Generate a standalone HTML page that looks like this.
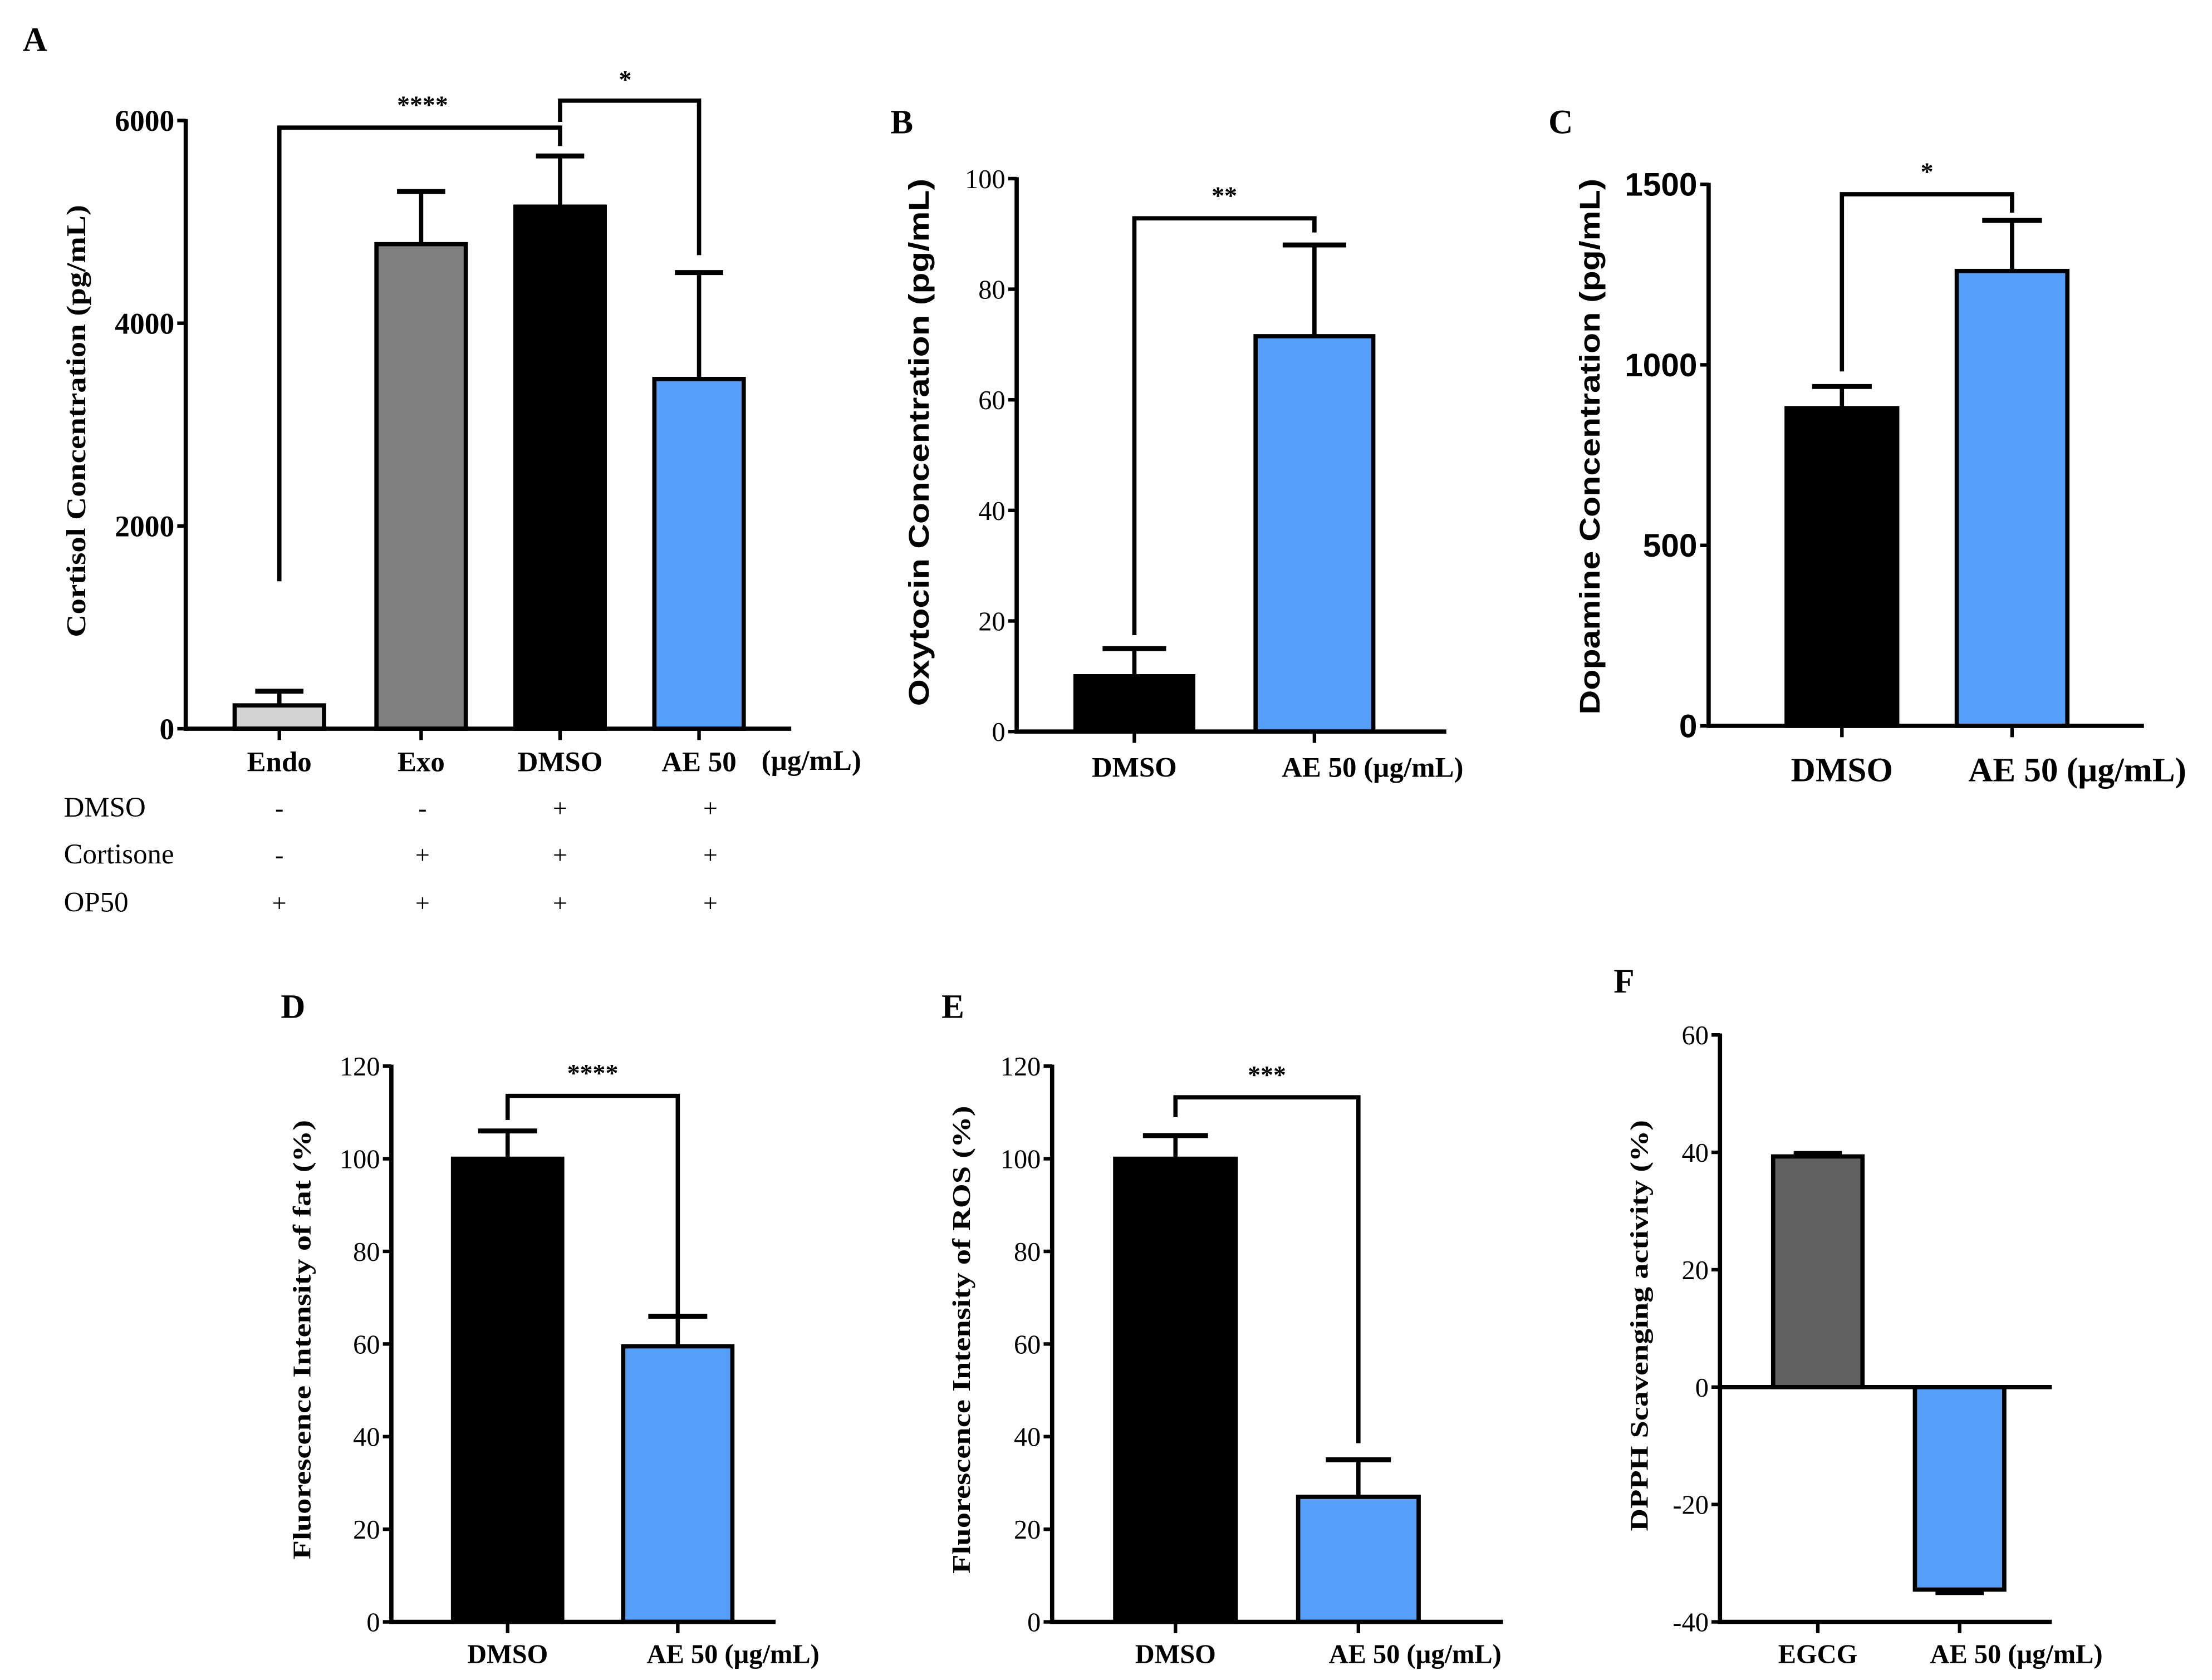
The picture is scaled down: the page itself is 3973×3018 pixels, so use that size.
<!DOCTYPE html>
<html><head><meta charset="utf-8"><style>
html,body{margin:0;padding:0;background:#fff;}
svg{display:block;}
</style></head><body>
<svg id="fig" xmlns="http://www.w3.org/2000/svg" width="3973" height="3018" viewBox="0 0 1560 1185" preserveAspectRatio="none"></svg>
<script>
// Panel A
const catsA = ["Endo","Exo","DMSO","AE 50"];
const valsA = [230, 4780, 5150, 3450];
const errsA = [140, 520, 500, 1050];
const ticksA = [0, 2000, 4000, 6000];
// Panel B
const catsB = ["DMSO","AE 50 (µg/mL)"];
const valsB = [10, 71.5];
const errsB = [5, 16.5];
const ticksB = [0, 20, 40, 60, 80, 100];
// Panel C
const catsC = ["DMSO","AE 50 (µg/mL)"];
const valsC = [880, 1260];
const errsC = [60, 140];
const ticksC = [0, 500, 1000, 1500];
// Panel D
const catsD = ["DMSO","AE 50 (µg/mL)"];
const valsD = [100, 59.5];
const errsD = [6, 6.5];
const ticksD = [0, 20, 40, 60, 80, 100, 120];
// Panel E
const catsE = ["DMSO","AE 50 (µg/mL)"];
const valsE = [100, 27];
const errsE = [5, 8];
const ticksE = [0, 20, 40, 60, 80, 100, 120];
// Panel F
const catsF = ["EGCG","AE 50 (µg/mL)"];
const valsF = [39.3, -34.5];
const errsF = [0.5, 0.5];
const ticksF = [-40, -20, 0, 20, 40, 60];

const NS="http://www.w3.org/2000/svg";
const svg=document.getElementById('fig');
function mk(tag,attrs,parent,text){
  const e=document.createElementNS(NS,tag);
  for(const k in attrs)e.setAttribute(k,attrs[k]);
  if(text!==undefined)e.textContent=text;
  (parent||svg).appendChild(e);return e;
}
const SERIF='"Liberation Serif", serif';
const SANS='"Liberation Sans", sans-serif';

function panel(cfg){
  const g=mk('g',{});
  
  
  const y=v=>cfg.y0+(v-cfg.ymin)/(cfg.ymax-cfg.ymin)*(cfg.y1-cfg.y0);
  const L=mk('text',{x:cfg.letter[0],y:cfg.letter[1],'font-family':SERIF,'font-weight':'bold','font-size':24},g,cfg.letter[2]);
  
  
  cfg.vals.forEach((v,i)=>{
    const cx=cfg.cx[i],w=cfg.bw;
    const base=y(cfg.base||0),top=y(v);
    const r=mk('rect',{x:cx-w/2,y:Math.min(base,top),width:w,height:Math.abs(base-top),fill:cfg.colors[i],stroke:'#000','stroke-width':3},g);
    
    
    const sign=v>=0?1:-1;
    const et=y(v+sign*cfg.errs[i]);
    const eg=mk('g',{},g);
    
    
    mk('line',{x1:cx,x2:cx,y1:top,y2:et,stroke:'#000','stroke-width':3},eg);
    mk('line',{x1:cx-w*0.27,x2:cx+w*0.27,y1:et,y2:et,stroke:'#000','stroke-width':3.5},eg);
  });
  const ya=mk('line',{x1:cfg.ax,x2:cfg.ax,y1:y(cfg.ymax)-1,y2:y(cfg.ymin)+1.5,stroke:'#000','stroke-width':3},g);
  
  
  const xa=mk('line',{x1:cfg.ax,x2:cfg.axEnd,y1:y(cfg.base||0),y2:y(cfg.base||0),stroke:'#000','stroke-width':3},g);
  
  
  if(cfg.bottomLine){
    const bl=mk('line',{x1:cfg.ax,x2:cfg.axEnd,y1:y(cfg.ymin),y2:y(cfg.ymin),stroke:'#000','stroke-width':3},g);
    
    
  }
  const tickY=cfg.bottomLine?y(cfg.ymin):y(cfg.base||0);
  cfg.cx.forEach(cx=>mk('line',{x1:cx,x2:cx,y1:tickY,y2:tickY+8,stroke:'#000','stroke-width':2.5},g));
  cfg.ticks.forEach(t=>{
    mk('line',{x1:cfg.ax-6,x2:cfg.ax,y1:y(t),y2:y(t),stroke:'#000','stroke-width':2.5},g);
    const tl=mk('text',{x:cfg.ax-8,y:y(t)+cfg.tickFs*0.35,'text-anchor':'end','font-family':cfg.tickFont,'font-weight':cfg.tickBold?'bold':'normal','font-size':cfg.tickFs},g,String(t));
    
    
  });
  const yt=mk('text',{x:0,y:0,transform:`translate(${cfg.yt[0]},${cfg.yt[1]}) rotate(-90)`,'text-anchor':'middle','font-family':cfg.ytFont,'font-weight':'bold','font-size':cfg.ytFs,'textLength':cfg.ytLen,'lengthAdjust':'spacingAndGlyphs'},g,cfg.ytitle);
  
  
  cfg.cats.forEach((c,i)=>{
    const xl=mk('text',{x:cfg.cx[i]+(cfg.xlOff?cfg.xlOff[i]:0),y:cfg.xlY,'text-anchor':'middle','font-family':SERIF,'font-weight':'bold','font-size':cfg.xlFs},g,c);
    
    
  });
  if(cfg.br){
    const b=cfg.br;
    const bg=mk('g',{},g);
    
    
    mk('polyline',{points:`${b.x1},${b.l} ${b.x1},${b.top} ${b.x2},${b.top} ${b.x2},${b.r}`,fill:'none',stroke:'#000','stroke-width':3},bg);
    mk('text',{x:(b.x1+b.x2)/2,y:b.top-10,'text-anchor':'middle','font-family':SERIF,'font-weight':'bold','font-size':18},bg,b.s);
  }
  return {g,y};
}

const pA=panel({name:'panel-a-cortisol',letter:[16,36,'A'],cats:catsA,vals:valsA,errs:errsA,ticks:ticksA,
  ymin:0,ymax:6000,y0:514,y1:85,ax:131,axEnd:558,cx:[197,297,395,493],bw:63,
  colors:['#d3d3d3','#808080','#000','#559ffb'],tickFont:SERIF,tickBold:true,tickFs:21,
  yt:[60,297],ytitle:'Cortisol Concentration (pg/mL)',ytFont:SERIF,ytFs:19,ytLen:305,
  xlY:544,xlFs:20,br:null});
(function(){
  const g=pA.g;
  const ul=mk('text',{x:537,y:543,'font-family':SERIF,'font-weight':'bold','font-size':20},g,'(µg/mL)');
  
  
  const b1=mk('g',{},g);
  
  
  mk('polyline',{points:`197,410 197,90 395,90 395,103`,fill:'none',stroke:'#000','stroke-width':3},b1);
  mk('text',{x:298,y:80,'text-anchor':'middle','font-family':SERIF,'font-weight':'bold','font-size':18},b1,'****');
  const b2=mk('g',{},g);
  
  
  mk('polyline',{points:`395,86 395,71 493,71 493,180`,fill:'none',stroke:'#000','stroke-width':3},b2);
  mk('text',{x:441,y:62,'text-anchor':'middle','font-family':SERIF,'font-weight':'bold','font-size':18},b2,'*');
  const rows=[['DMSO',['-','-','+','+'],576],['Cortisone',['-','+','+','+'],609],['OP50',['+','+','+','+'],643]];
  const xs=[197,298,395,501];
  rows.forEach(r=>{
    const t=mk('text',{x:45,y:r[2],'font-family':SERIF,'font-size':20},g,r[0]);
    
    
    r[1].forEach((s,i)=>{
      const c=mk('text',{x:xs[i],y:r[2],'text-anchor':'middle','font-family':SERIF,'font-size':18},g,s);
      
      
    });
  });
})();

panel({name:'panel-b-oxytocin',letter:[628,94,'B'],cats:catsB,vals:valsB,errs:errsB,ticks:ticksB,
  ymin:0,ymax:100,y0:516,y1:126,ax:717,axEnd:1020,cx:[800,927],bw:83,
  colors:['#000','#559ffb'],tickFont:SERIF,tickFs:19,
  yt:[655,312],ytitle:'Oxytocin Concentration (pg/mL)',ytFont:SANS,ytFs:20,ytLen:372,
  xlY:548,xlFs:20,xlOff:[0,41],br:{x1:800,x2:927,top:154,l:448,r:164,s:'**'}});

panel({name:'panel-c-dopamine',letter:[1092,94,'C'],cats:catsC,vals:valsC,errs:errsC,ticks:ticksC,
  ymin:0,ymax:1500,y0:512,y1:130,ax:1205,axEnd:1512,cx:[1299,1419],bw:78,
  colors:['#000','#559ffb'],tickFont:SANS,tickBold:true,tickFs:23,
  yt:[1128,315],ytitle:'Dopamine Concentration (pg/mL)',ytFont:SANS,ytFs:20,ytLen:378,
  xlY:551,xlFs:24,xlOff:[0,46],br:{x1:1299,x2:1419,top:137,l:262,r:150,s:'*'}});

panel({name:'panel-d-fat',letter:[198,718,'D'],cats:catsD,vals:valsD,errs:errsD,ticks:ticksD,
  ymin:0,ymax:120,y0:1144,y1:752,ax:276,axEnd:547,cx:[358,478],bw:77,
  colors:['#000','#559ffb'],tickFont:SERIF,tickFs:19,
  yt:[219,945],ytitle:'Fluorescence Intensity of fat (%)',ytFont:SERIF,ytFs:18,ytLen:310,
  xlY:1173,xlFs:19,xlOff:[0,39],br:{x1:358,x2:478,top:773,l:790,r:932,s:'****'}});

panel({name:'panel-e-ros',letter:[664,718,'E'],cats:catsE,vals:valsE,errs:errsE,ticks:ticksE,
  ymin:0,ymax:120,y0:1144,y1:752,ax:742,axEnd:1060,cx:[829,958],bw:85,
  colors:['#000','#559ffb'],tickFont:SERIF,tickFs:19,
  yt:[684,945],ytitle:'Fluorescence Intensity of ROS (%)',ytFont:SERIF,ytFs:18,ytLen:330,
  xlY:1173,xlFs:19,xlOff:[0,40],br:{x1:829,x2:958,top:774,l:788,r:1018,s:'***'}});

panel({name:'panel-f-dpph',letter:[1138,700,'F'],cats:catsF,vals:valsF,errs:errsF,ticks:ticksF,
  ymin:-40,ymax:60,y0:1144,y1:730,ax:1213,axEnd:1447,cx:[1282,1382],bw:63,base:0,bottomLine:true,
  colors:['#616161','#559ffb'],tickFont:SERIF,tickFs:19,
  yt:[1162,935],ytitle:'DPPH Scavenging activity (%)',ytFont:SERIF,ytFs:18,ytLen:290,
  xlY:1173,xlFs:19,xlOff:[0,40],br:null});
</script>
</body></html>
